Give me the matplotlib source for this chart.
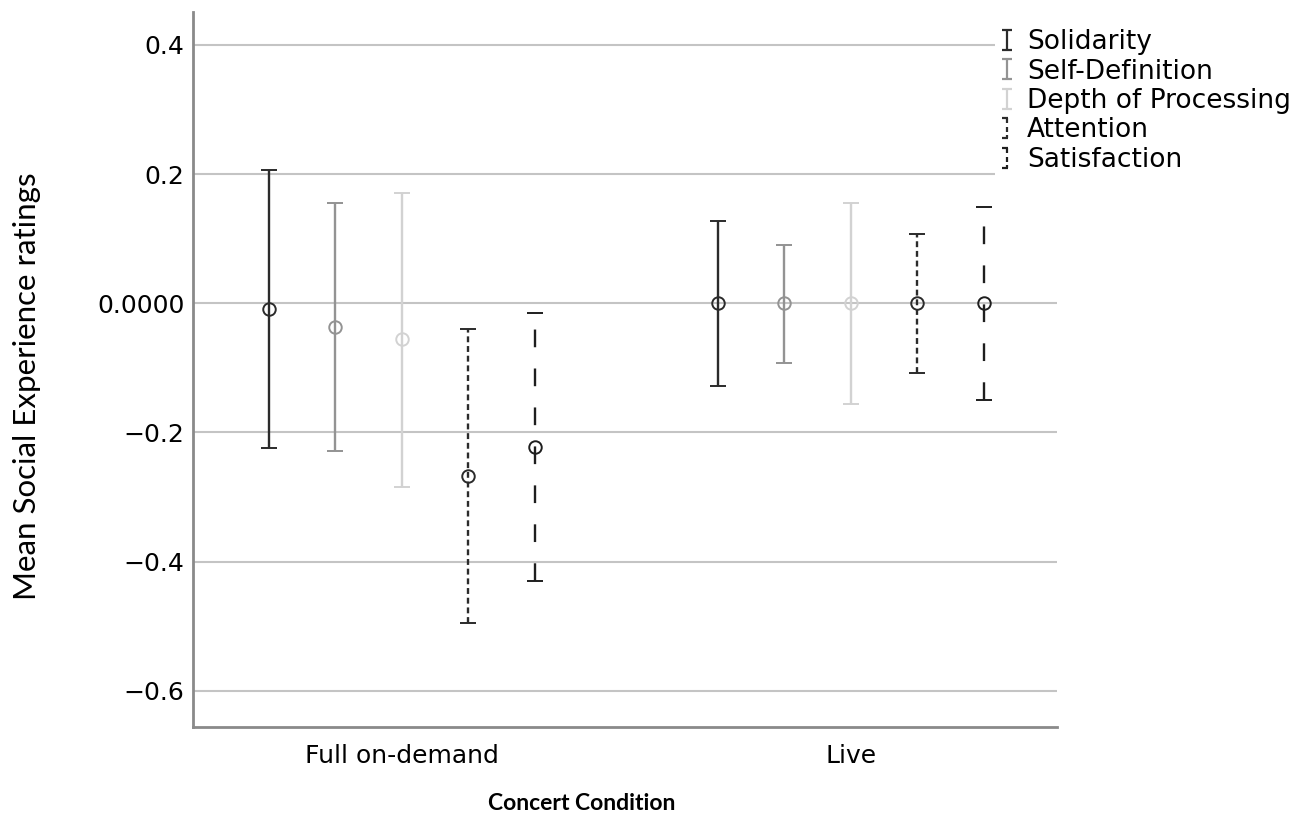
import matplotlib
matplotlib.use('Agg')
from matplotlib import pyplot as plt
from matplotlib.path import Path
from matplotlib.lines import Line2D
import numpy as np

# data
conditions = ['Full on-demand', 'Live']
measures = ['Solidarity', 'Self-Definition', 'Depth of Processing', 'Attention', 'Satisfaction']

means = {
    'Solidarity':          [-0.009, 0.000],
    'Self-Definition':     [-0.036, 0.000],
    'Depth of Processing': [-0.056, 0.000],
    'Attention':           [-0.268, 0.000],
    'Satisfaction':        [-0.223, 0.000],
}
upper = {
    'Solidarity':          [0.206, 0.127],
    'Self-Definition':     [0.156, 0.091],
    'Depth of Processing': [0.170, 0.155],
    'Attention':           [-0.040, 0.107],
    'Satisfaction':        [-0.015, 0.149],
}
lower = {
    'Solidarity':          [-0.224, -0.128],
    'Self-Definition':     [-0.229, -0.093],
    'Depth of Processing': [-0.285, -0.156],
    'Attention':           [-0.495, -0.108],
    'Satisfaction':        [-0.430, -0.150],
}
yticks = [0.4, 0.2, 0.0, -0.2, -0.4, -0.6]
ytick_labels = ['0.4', '0.2', '0.0000', '\u22120.2', '\u22120.4', '\u22120.6']

# styling per measure
colors = {'Solidarity': '#2b2b2b', 'Self-Definition': '#939393', 'Depth of Processing': '#d2d2d2',
          'Attention': '#2b2b2b', 'Satisfaction': '#1e1e1e'}
dashes = {'Solidarity': None, 'Self-Definition': None, 'Depth of Processing': None,
          'Attention': (2.5, 1.6), 'Satisfaction': (7.5, 9.0)}

fig = plt.figure(figsize=(13.06, 8.21), dpi=100)
ax = fig.add_axes([193 / 1306, 1 - 727 / 821, 864 / 1306, 715 / 821])

offset = 0.148
x_base = np.arange(len(conditions))
for i, m in enumerate(measures):
    xs = x_base + (i - 2) * offset
    mu = np.array(means[m])
    err = np.vstack([mu - np.array(lower[m]), np.array(upper[m]) - mu])
    eb = ax.errorbar(xs, mu, yerr=err, fmt='o', mfc='none', mec=colors[m], ms=9, mew=1.4,
                     ecolor=colors[m], elinewidth=1.7, capsize=5.8, capthick=1.7, zorder=3)
    if dashes[m] is not None:
        for lc in eb[2]:
            lc.set_linestyle((0, dashes[m]))

ax.set_xlim(-0.465, 1.459)
ax.set_ylim(-0.656, 0.451)
ax.set_yticks(yticks)
ax.set_yticklabels(ytick_labels)
ax.set_xticks(x_base)
ax.set_xticklabels(conditions)
ax.tick_params(length=0, labelsize=18)
ax.tick_params(axis='x', pad=12)
ax.tick_params(axis='y', pad=6)
ax.yaxis.grid(True, color='#c4c4c4', lw=1.5)
ax.set_axisbelow(True)
for s in ['top', 'right']:
    ax.spines[s].set_visible(False)
for s in ['left', 'bottom']:
    ax.spines[s].set_color('#8a8a8a')
    ax.spines[s].set_linewidth(2)

fig.text(27 / 1306, 1 - 386 / 821, 'Mean Social Experience ratings', rotation=90,
         ha='center', va='center', fontsize=22.5, family=['Lato', 'DejaVu Sans'])
fig.text(582 / 1306, 1 - 803 / 821, 'Concert Condition', ha='center', va='center',
         fontsize=16.5, fontweight='bold', family=['Lato', 'DejaVu Sans'])

# legend glyphs: little I-beams, broken up for the dashed series
def ibeam(gaps=False):
    if not gaps:
        verts = [(-0.5, 1), (0.5, 1), (0, 1), (0, -1), (-0.5, -1), (0.5, -1)]
        codes = [Path.MOVETO, Path.LINETO, Path.MOVETO, Path.LINETO, Path.MOVETO, Path.LINETO]
    else:
        verts = [(-0.5, 1), (0.1, 1), (0, 1), (0, 0.5), (0, 0.1), (0, -0.4),
                 (0, -0.7), (0, -1), (-0.5, -1), (0.1, -1)]
        codes = [Path.MOVETO, Path.LINETO, Path.MOVETO, Path.LINETO, Path.MOVETO, Path.LINETO,
                 Path.MOVETO, Path.LINETO, Path.MOVETO, Path.LINETO]
    return Path(verts, codes)

handles = []
for m in measures:
    handles.append(Line2D([], [], linestyle='none', marker=ibeam(dashes[m] is not None),
                          markersize=14, mec=colors[m], mfc='none', mew=1.6))

leg = ax.legend(handles, measures, loc='upper left', bbox_to_anchor=(982 / 1306, 1 - 12 / 821),
                bbox_transform=fig.transFigure, frameon=True, fancybox=False,
                edgecolor='none', facecolor='white', framealpha=1, fontsize=19,
                handlelength=0.6, handletextpad=0.45, labelspacing=0.13, borderpad=0.15)

fig.savefig('out.png', dpi=100)
